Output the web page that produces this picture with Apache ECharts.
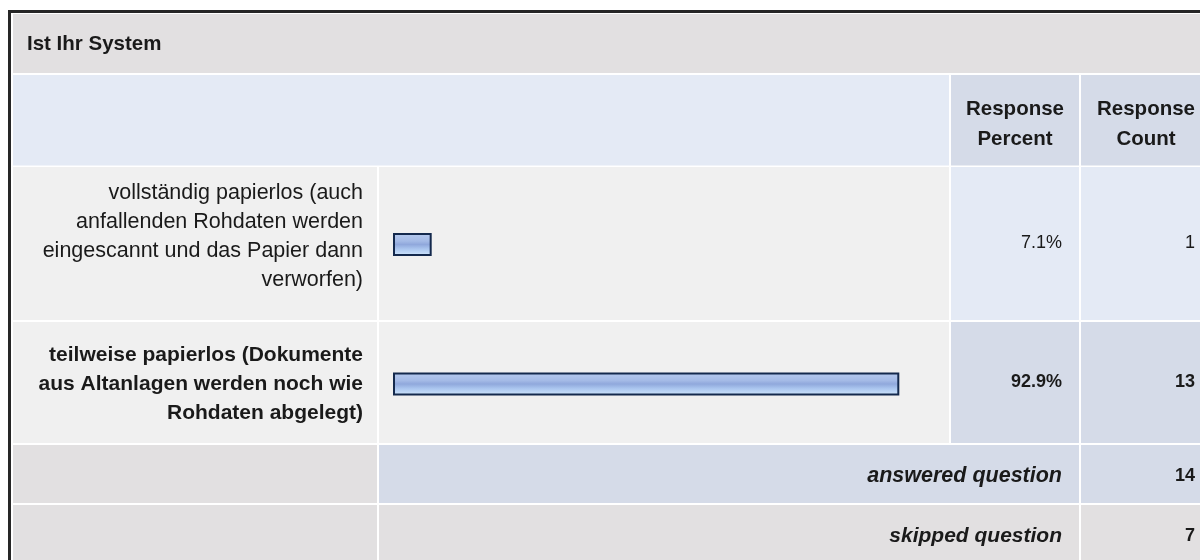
<!DOCTYPE html>
<html>
<head>
<meta charset="utf-8">
<script src="https://cdn.jsdelivr.net/npm/echarts@6/dist/echarts.min.js"></script>
<style>
  html, body { margin: 0; padding: 0; background: #fff; }
  #chart { width: 1200px; height: 560px; }
</style>
</head>
<body>
<div id="chart"></div>
<script>
// survey data
var questionTitle = 'Ist Ihr System'
var headerPercent = 'Response\nPercent'
var headerCount = 'Response\nCount'
var answerLabels = [
  'vollständig papierlos (auch\nanfallenden Rohdaten werden\neingescannt und das Papier dann\nverworfen)',
  'teilweise papierlos (Dokumente\naus Altanlagen werden noch wie\nRohdaten abgelegt)'
]
var responsePercent = [ 7.1, 92.9 ]
var responseCount = [ 1, 13 ]
var answeredLabel = 'answered question'
var skippedLabel = 'skipped question'
var answeredCount = 14
var skippedCount = 7

// layout
var FONT = '"Liberation Sans", Arial, sans-serif'
var ROWS = [ { y: 167, h: 153 }, { y: 322, h: 121 } ]
var topIdx = responsePercent.indexOf( Math.max.apply( null, responsePercent ) )

function rect ( x, y, w, h, fill ) {
  return { type: 'rect', z: -1, shape: { x: x, y: y, width: w, height: h }, style: { fill: fill } }
}
function txt ( s, x, y, align, opt ) {
  opt = opt || {}
  return {
    type: 'text', z: 10,
    style: {
      text: s, x: x, y: y, align: align, verticalAlign: 'middle',
      fontFamily: FONT, fontSize: opt.size || 18, fontWeight: opt.bold ? 'bold' : 'normal',
      fontStyle: opt.italic ? 'italic' : 'normal', lineHeight: opt.lh || 30, fill: '#1a1a1a'
    }
  }
}

var graphics = [
  rect( 13, 14, 1187, 59, '#e2e0e1' ),
  rect( 13, 75, 936, 90.5, '#e4eaf5' ),
  rect( 951, 75, 128, 90.5, '#d5dbe8' ),
  rect( 1081, 75, 119, 90.5, '#d5dbe8' ),
  rect( 13, 445, 364, 58, '#e2e0e1' ),
  rect( 379, 445, 700, 58, '#d5dbe8' ),
  rect( 1081, 445, 119, 58, '#d5dbe8' ),
  rect( 13, 505, 364, 55, '#e2e0e1' ),
  rect( 379, 505, 700, 55, '#e2e0e1' ),
  rect( 1081, 505, 119, 55, '#e2e0e1' ),
  txt( questionTitle, 27, 44, 'left', { bold: true, size: 20.5 } ),
  txt( headerPercent, 1015, 124, 'center', { bold: true, size: 20.5 } ),
  txt( headerCount, 1146, 124, 'center', { bold: true, size: 20.5 } ),
  txt( answeredLabel, 1062, 476, 'right', { bold: true, italic: true, size: 21.5 } ),
  txt( String( answeredCount ), 1195, 476, 'right', { bold: true } ),
  txt( skippedLabel, 1062, 536, 'right', { bold: true, italic: true, size: 21 } ),
  txt( String( skippedCount ), 1195, 536, 'right', { bold: true } ),
  { type: 'rect', z: 20, shape: { x: 9.5, y: 11.5, width: 1300, height: 700 }, style: { fill: 'none', stroke: '#262626', lineWidth: 3 } }
]
ROWS.forEach( function ( r, i ) {
  var hi = i === topIdx
  var cy = r.y + r.h / 2
  graphics.push( rect( 13, r.y, 364, r.h, '#f0f0f0' ) )
  graphics.push( rect( 379, r.y, 570, r.h, '#f0f0f0' ) )
  graphics.push( rect( 951, r.y, 128, r.h, hi ? '#d5dbe8' : '#e4eaf5' ) )
  graphics.push( rect( 1081, r.y, 119, r.h, hi ? '#d5dbe8' : '#e4eaf5' ) )
  graphics.push( txt( responsePercent[ i ].toFixed( 1 ) + '%', 1062, cy, 'right', { bold: hi } ) )
  graphics.push( txt( String( responseCount[ i ] ), 1195, cy, 'right', { bold: hi } ) )
} )

var chart = echarts.init( document.getElementById( 'chart' ) )
chart.setOption( {
  animation: false,
  backgroundColor: '#ffffff',
  grid: { left: 393, width: 545, top: 174.75, height: 279 },
  xAxis: { type: 'value', min: 0, max: 100, show: false },
  yAxis: {
    type: 'category',
    inverse: true,
    data: answerLabels,
    z: 10,
    axisLine: { show: false },
    axisTick: { show: false },
    splitLine: { show: false },
    axisLabel: {
      margin: 30,
      align: 'right',
      formatter: function ( v, i ) {
        var tag = i === topIdx ? 'b' : 'n'
        var s = v.split( '\n' ).map( function ( l ) { return '{' + tag + '|' + l + '}' } ).join( '\n' )
        // the long first label sits a little high in its cell
        return i === 0 ? s + '\n{sp| }' : s
      },
      rich: {
        n: { fontFamily: FONT, fontSize: 21.5, lineHeight: 29, color: '#1a1a1a', align: 'right' },
        b: { fontFamily: FONT, fontSize: 21, fontWeight: 'bold', lineHeight: 29, color: '#1a1a1a', align: 'right' },
        sp: { fontSize: 2, lineHeight: 16 }
      }
    }
  },
  series: [ {
    type: 'bar',
    data: responsePercent,
    barWidth: 23,
    itemStyle: {
      borderColor: '#14294d',
      borderWidth: 2,
      color: new echarts.graphic.LinearGradient( 0, 0, 0, 1, [
        { offset: 0, color: '#b6caee' },
        { offset: 0.35, color: '#a4bae6' },
        { offset: 0.5, color: '#90a8dc' },
        { offset: 0.7, color: '#abc6ef' },
        { offset: 1, color: '#d2e8fd' }
      ] )
    }
  } ],
  graphic: graphics
} )
</script>
</body>
</html>
